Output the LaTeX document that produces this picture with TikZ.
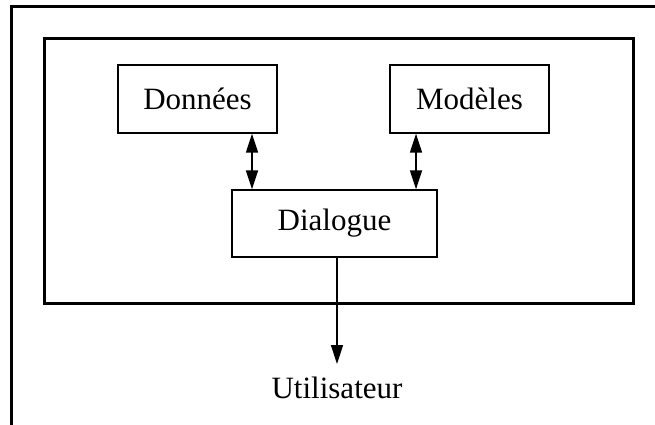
\documentclass[tikz,border=0pt]{standalone}
\usepackage{fontspec}
\setmainfont{Liberation Serif}
\usetikzlibrary{arrows.meta}
\begin{document}
\begin{tikzpicture}[x=1pt,y=-1pt,
  frameline/.style={line width=3pt},
  txt/.style={font=\fontsize{31}{34}\selectfont},
  smallbox/.style={draw,line width=1.3pt,minimum width=159pt,minimum height=68pt,inner sep=0pt,txt},
  tip/.style={Triangle[length=19pt,width=12pt]},
  conn/.style={line width=1.5pt,-{Triangle[length=19pt,width=12pt]}},
  dconn/.style={line width=1.5pt,{Triangle[length=19pt,width=12pt]}-{Triangle[length=19pt,width=12pt]}}]
\useasboundingbox (0,0) rectangle (655,425);
\coordinate (ftl) at (11.5,6.5);
\coordinate (ftr) at (656,6.5);
\coordinate (fbl) at (11.5,426);
\draw[frameline] (ftr) -- (ftl) -- (fbl);
\draw[frameline] (44,39) rectangle (633,303);
\node[smallbox] (donnees) at (197.5,99) {Données};
\node[smallbox] (modeles) at (469.5,99) {Modèles};
\node[smallbox,minimum width=205pt,minimum height=67pt] (dialogue) at (334.5,223.5) {Dialogue};
\coordinate (a1) at (252,0);
\coordinate (a2) at (416,0);
\coordinate (a3) at (337,0);
\coordinate (utip) at (337,364);
\node[txt,anchor=base,inner sep=0pt] (util) at (337,398) {Utilisateur};
\draw[dconn] (donnees.south -| a1) -- (dialogue.north -| a1);
\draw[dconn] (modeles.south -| a2) -- (dialogue.north -| a2);
\draw[conn] (dialogue.south -| a3) -- (utip);
\end{tikzpicture}
\end{document}
